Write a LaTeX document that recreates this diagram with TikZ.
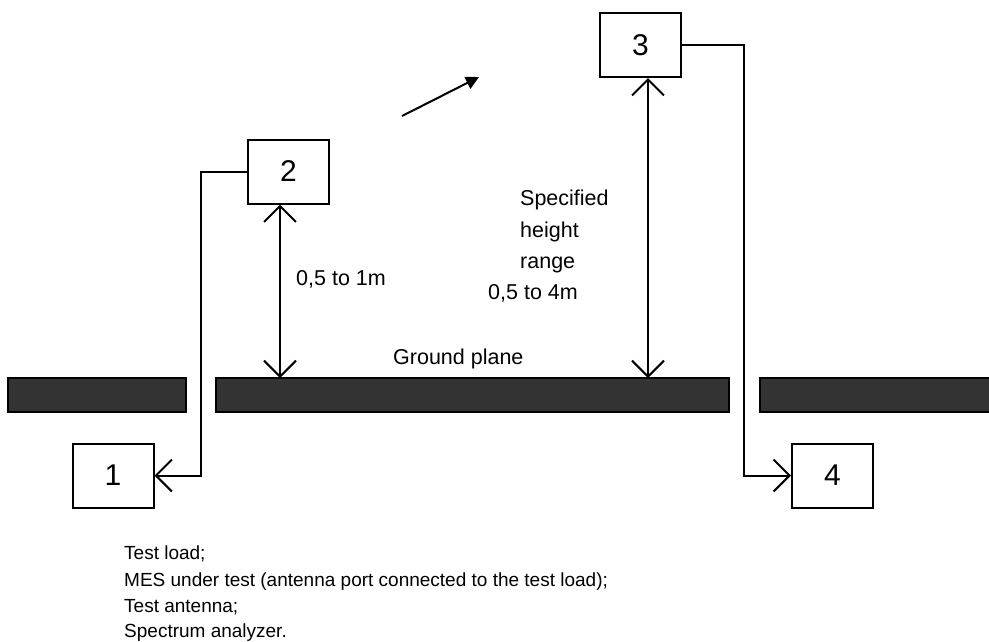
\documentclass[tikz,border=0pt]{standalone}
\usepackage{fontspec}
\setmainfont{Liberation Sans}
\usetikzlibrary{arrows.meta}
\begin{document}
\begin{tikzpicture}[x=1pt,y=-1pt,
  lw/.style={line width=2pt},
  unitbox/.style={draw,lw,rectangle,minimum width=81pt,minimum height=64pt,inner sep=0pt,font=\fontsize{30}{36}\selectfont},
  bar/.style={draw=black,line width=2pt,fill=black!80},
  lbl/.style={anchor=base west,inner sep=0pt,font=\fontsize{21.5}{26}\selectfont},
  leg/.style={anchor=base west,inner sep=0pt,font=\fontsize{19}{26}\selectfont},
  barb/.style={lw,{Straight Barb[length=16pt,width=32pt,line width=2pt]}-{Straight Barb[length=16pt,width=32pt,line width=2pt]}},
  barbend/.style={lw,-{Straight Barb[length=16pt,width=32pt,line width=2pt]}}
]
\useasboundingbox (0,0) rectangle (989,641);
% ground plane bars
\fill[bar] (8,378) rectangle (186,412);
\fill[bar] (216,378) rectangle (729,412);
\fill[bar] (760,378) rectangle (992,412);
\node[lbl] (gp) at (393,364) {Ground plane};
% boxes
\node[unitbox] (b1) at (113,475.5) {1};
\node[unitbox] (b2) at (288.5,171.5) {2};
\node[unitbox] (b3) at (640.5,45) {3};
\node[unitbox] (b4) at (832.5,475.5) {4};
% ground coordinates
\coordinate (g2) at (280,378);
\coordinate (g3) at (648,378);
% height arrows
\draw[barb] (b2.south -| g2) -- (g2);
\draw[barb] (b3.south -| g3) -- (g3);
% cables
\draw[barbend] (b2.west) -- (201,171.5) -- (201,475.5) -- (b1.east);
\draw[barbend] (b3.east) -- (744,45) -- (744,475.5) -- (b4.west);
% direction arrow
\coordinate (da) at (402,116);
\coordinate (db) at (479,77);
\draw[lw,-{Triangle[length=13pt,width=13pt]}] (da) -- (db);
% labels
\node[lbl] (h1) at (296,285) {0,5 to 1m};
\node[lbl] (s1) at (520,205) {Specified};
\node[lbl] (s2) at (520,237) {height};
\node[lbl] (s3) at (520,268) {range};
\node[lbl] (s4) at (488,299) {0,5 to 4m};
% legend
\node[leg] (l1) at (124,559) {Test load;};
\node[leg] (l2) at (124,586) {MES under test (antenna port connected to the test load);};
\node[leg] (l3) at (124,612) {Test antenna;};
\node[leg] (l4) at (124,637) {Spectrum analyzer.};
\end{tikzpicture}
\end{document}
